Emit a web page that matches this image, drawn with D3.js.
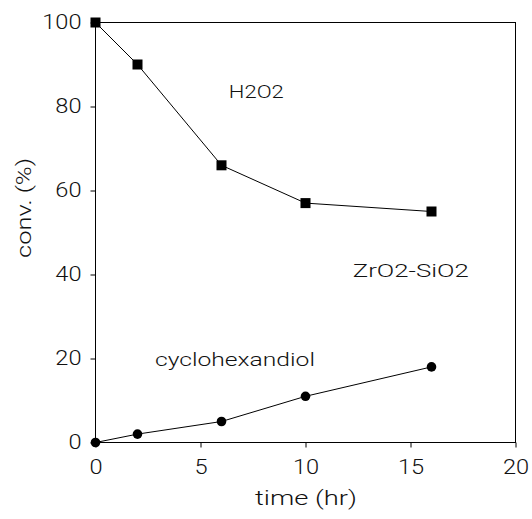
<!DOCTYPE html>
<html>
<head>
<meta charset="utf-8">
<script src="https://cdn.jsdelivr.net/npm/d3@7"></script>
<style>
  html, body { margin: 0; padding: 0; background: #fff; }
  svg { display: block; }
  text { font-family: "Roboto", "Lato", "Liberation Sans", Arial, sans-serif; font-weight: 300; fill: #111; }
</style>
</head>
<body>
<svg id="chart" width="532" height="519"></svg>
<script>
// ---- data ----
const timeHr = [0, 2, 6, 10, 16];
const h2o2Conv = [100, 90, 66, 57, 55];
const diolConv = [0, 2, 5, 11, 18];
const xTicks = [0, 5, 10, 15, 20];
const yTicks = [0, 20, 40, 60, 80, 100];
const xTitle = "time (hr)";
const yTitle = "conv. (%)";
const annotationText = ["H2O2", "ZrO2-SiO2", "cyclohexandiol"];
const annotationX = [6.35, 12.25, 2.83];
const annotationY = [82, 39.4, 18.2];

// ---- layout ----
const mLeft = 95.5, mRight = 515.5, mTop = 22.5, mBottom = 442.5;
const annotationLen = [55, 116, 160];

const svg = d3.select("#chart");
const x = d3.scaleLinear().domain([0, 20]).range([mLeft, mRight]);
const y = d3.scaleLinear().domain([0, 100]).range([mBottom, mTop]);

// axes
const xAxis = d3.axisBottom(x).tickValues(xTicks).tickSize(5).tickPadding(12).tickFormat(d3.format("d"));
const yAxis = d3.axisLeft(y).tickValues(yTicks).tickSize(5).tickPadding(9).tickFormat(d3.format("d"));

const gx = svg.append("g").attr("transform", `translate(0,${mBottom})`).call(xAxis);
const gy = svg.append("g").attr("transform", `translate(${mLeft},0)`).call(yAxis);
[gx, gy].forEach(g => {
  g.select(".domain").remove();
  g.selectAll(".tick line").attr("stroke", "#000").attr("stroke-width", 1);
  g.selectAll(".tick text")
    .attr("fill", "#111")
    .style("font-family", '"Roboto", "Lato", "Liberation Sans", Arial, sans-serif')
    .style("font-weight", "300")
    .style("font-size", "20px")
    .each(function () {
      const t = d3.select(this);
      const tx = +t.attr("x") || 0;
      const ty = +t.attr("y") || 0;
      t.attr("x", 0).attr("y", 0)
       .attr("transform", `translate(${tx},${ty}) scale(1.18,1)`);
    });
});

// frame
svg.append("rect")
  .attr("x", mLeft).attr("y", mTop)
  .attr("width", mRight - mLeft).attr("height", mBottom - mTop)
  .attr("fill", "none").attr("stroke", "#000").attr("stroke-width", 1);

// lines
const line = d3.line().x(d => x(d[0])).y(d => y(d[1]));
const h2o2 = timeHr.map((t, i) => [t, h2o2Conv[i]]);
const diol = timeHr.map((t, i) => [t, diolConv[i]]);

svg.append("path").datum(h2o2).attr("d", line)
  .attr("fill", "none").attr("stroke", "#000").attr("stroke-width", 1);
svg.append("path").datum(diol).attr("d", line)
  .attr("fill", "none").attr("stroke", "#000").attr("stroke-width", 1);

// markers
svg.selectAll("rect.sq").data(h2o2).enter().append("rect")
  .attr("class", "sq")
  .attr("x", d => x(d[0]) - 5).attr("y", d => y(d[1]) - 5)
  .attr("width", 10).attr("height", 10)
  .attr("fill", "#000");
svg.selectAll("circle.dot").data(diol).enter().append("circle")
  .attr("class", "dot")
  .attr("cx", d => x(d[0])).attr("cy", d => y(d[1]))
  .attr("r", 4.8)
  .attr("fill", "#000");

// annotations
annotationText.forEach((t, i) => {
  svg.append("text")
    .attr("x", x(annotationX[i])).attr("y", y(annotationY[i]))
    .attr("textLength", annotationLen[i])
    .attr("lengthAdjust", "spacingAndGlyphs")
    .style("font-size", "18px")
    .text(t);
});

// axis titles
svg.append("text")
  .attr("x", 255).attr("y", 505)
  .attr("textLength", 102)
  .attr("lengthAdjust", "spacingAndGlyphs")
  .style("font-size", "20px")
  .text(xTitle);
svg.append("text")
  .attr("transform", `translate(31,258) rotate(-90)`)
  .attr("textLength", 100)
  .attr("lengthAdjust", "spacingAndGlyphs")
  .style("font-size", "20px")
  .text(yTitle);
</script>
</body>
</html>
